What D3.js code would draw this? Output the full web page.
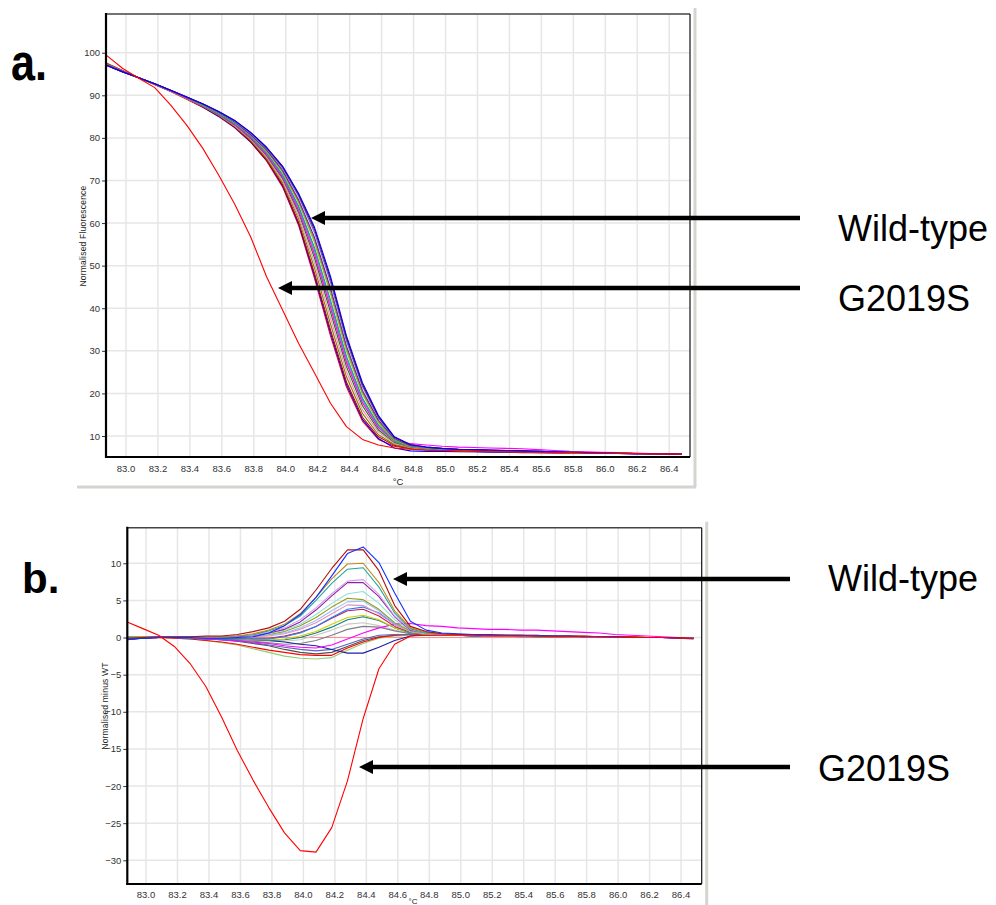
<!DOCTYPE html>
<html><head><meta charset="utf-8">
<script src="https://cdn.jsdelivr.net/npm/d3@7"></script>
<style>
body{margin:0;background:#fff}
svg{display:block}
text{font-family:"Liberation Sans",Arial,Helvetica,sans-serif}
</style>
</head><body>
<svg id="c" width="996" height="905"></svg>
<script>
// ---------- DATA ----------
const temps = [82.88,82.98,83.08,83.18,83.28,83.38,83.48,83.58,83.68,83.78,83.88,83.98,84.08,84.18,84.28,84.38,84.48,84.58,84.68,84.78,84.88,84.98,85.08,85.18,85.28,85.38,85.48,85.58,85.68,85.78,85.88,85.98,86.08,86.18,86.28,86.38,86.48];

const xTicks = [83.0,83.2,83.4,83.6,83.8,84.0,84.2,84.4,84.6,84.8,85.0,85.2,85.4,85.6,85.8,86.0,86.2,86.4];
const yTicksA = [10,20,30,40,50,60,70,80,90,100];
const yTicksB = [-30,-25,-20,-15,-10,-5,0,5,10];

// panel a: normalised fluorescence
const a_red     = [97.5,95.8,94.1,92.5,90.9,89.1,87.2,85.0,82.4,79.0,74.6,68.5,59.5,47.0,33.5,21.5,13.5,9.2,7.6,7.0,6.7,6.5,6.4,6.3,6.3,6.2,6.2,6.1,6.1,6.0,6.0,5.9,5.9,5.8,5.8,5.7,5.7];
const a_blueLow = [97.3,95.7,94.1,92.6,91.0,89.2,87.3,85.1,82.5,79.1,74.8,68.8,59.9,47.6,34.2,22.1,13.9,9.4,7.2,6.5,6.4,6.4,6.3,6.3,6.2,6.2,6.1,6.1,6.0,6.0,5.9,5.9,5.9,5.8,5.8,5.7,5.7];
const a_darkred = [97.4,95.7,94.1,92.6,91.0,89.2,87.4,85.3,82.6,79.2,74.9,69.0,60.2,48.2,34.9,22.7,14.4,9.8,7.8,7.1,6.8,6.6,6.5,6.4,6.4,6.3,6.3,6.2,6.2,6.1,6.1,6.0,6.0,5.9,5.9,5.8,5.7];
const a_olive   = [97.4,95.7,94.1,92.6,91.0,89.2,87.4,85.3,82.7,79.5,75.2,69.5,61.0,49.4,36.3,23.9,15.3,10.3,8.0,7.2,6.9,6.7,6.5,6.4,6.4,6.3,6.3,6.2,6.2,6.1,6.1,6.0,6.0,5.9,5.9,5.8,5.8];
const a_pink    = [97.3,95.7,94.1,92.6,91.0,89.2,87.5,85.4,82.9,79.7,75.6,70.0,61.7,50.6,37.7,25.1,16.2,10.9,8.3,7.3,6.9,6.7,6.6,6.5,6.4,6.4,6.3,6.3,6.2,6.1,6.1,6.0,6.0,5.9,5.9,5.8,5.7];
const a_green   = [97.3,95.6,94.1,92.6,91.0,89.3,87.5,85.5,83.1,79.9,75.9,70.5,62.5,51.8,39.1,26.3,17.1,11.4,8.5,7.4,7.0,6.8,6.6,6.5,6.5,6.4,6.3,6.3,6.2,6.1,6.0,6.0,5.9,5.9,5.8,5.8,5.7];
const a_orange  = [97.2,95.6,94.1,92.6,91.0,89.3,87.6,85.6,83.3,80.2,76.2,71.0,63.3,53.0,40.5,27.5,18.0,12.0,8.7,7.4,7.0,6.8,6.6,6.5,6.5,6.4,6.3,6.3,6.2,6.1,6.0,6.0,5.9,5.9,5.8,5.8,5.7];
const a_magenta = [97.2,95.6,94.1,92.6,91.0,89.3,87.6,85.6,83.2,80.1,76.1,70.8,63.0,52.6,40.1,27.2,17.8,11.9,8.9,8.2,7.9,7.6,7.4,7.3,7.2,7.1,7.0,6.8,6.6,6.4,6.3,6.2,6.1,6.0,5.9,5.8,5.8];
const a_violet  = [97.2,95.6,94.1,92.6,91.0,89.4,87.6,85.7,83.4,80.3,76.4,71.2,63.7,53.6,41.2,28.1,18.5,12.3,8.8,7.5,7.1,6.8,6.7,6.6,6.5,6.4,6.4,6.3,6.2,6.1,6.1,6.0,5.9,5.9,5.8,5.8,5.7];
const a_teal    = [97.2,95.6,94.1,92.6,91.1,89.4,87.7,85.7,83.4,80.4,76.5,71.4,64.0,54.2,41.9,28.7,18.9,12.6,8.9,7.5,7.1,6.8,6.7,6.6,6.5,6.4,6.4,6.3,6.2,6.2,6.1,6.0,6.0,5.9,5.8,5.8,5.7];
const a_gold    = [97.1,95.5,94.1,92.7,91.1,89.5,87.8,85.9,83.6,80.6,76.8,71.9,64.8,55.4,43.3,29.9,19.8,13.1,9.1,7.6,7.2,6.9,6.7,6.6,6.5,6.5,6.4,6.3,6.3,6.2,6.1,6.0,6.0,5.9,5.9,5.8,5.7];
const a_lime    = [97.1,95.5,94.1,92.7,91.1,89.5,87.8,85.9,83.7,80.7,77.0,72.1,65.1,56.0,44.0,30.5,20.2,13.4,9.2,7.7,7.2,6.9,6.8,6.7,6.6,6.5,6.4,6.3,6.3,6.2,6.1,6.0,6.0,5.9,5.9,5.8,5.7];
const a_purple  = [97.1,95.5,94.1,92.7,91.1,89.5,87.9,86.0,83.8,80.8,77.2,72.4,65.5,56.6,44.7,31.1,20.7,13.7,9.4,7.7,7.3,7.0,6.8,6.7,6.6,6.5,6.4,6.4,6.3,6.2,6.1,6.1,6.0,5.9,5.9,5.8,5.7];
const a_sky     = [97.0,95.5,94.1,92.7,91.2,89.6,87.9,86.1,83.9,81.1,77.5,72.9,66.3,57.8,46.1,32.3,21.6,14.2,9.6,7.8,7.3,7.0,6.9,6.7,6.6,6.6,6.5,6.4,6.3,6.2,6.1,6.1,6.0,5.9,5.9,5.8,5.7];
const a_maroon  = [97.0,95.5,94.1,92.7,91.2,89.6,88.0,86.2,84.1,81.3,77.7,73.2,66.7,58.5,46.9,33.0,22.1,14.5,9.7,7.9,7.4,7.1,6.9,6.8,6.7,6.6,6.5,6.4,6.3,6.2,6.1,6.0,6.0,5.9,5.9,5.8,5.7];
const a_blue    = [97.0,95.5,94.1,92.7,91.2,89.6,88.0,86.2,84.1,81.3,77.8,73.4,67.0,59.0,47.5,33.5,22.5,14.8,9.8,8.0,7.4,7.1,6.9,6.8,6.7,6.6,6.5,6.4,6.3,6.2,6.1,6.0,5.9,5.9,5.8,5.8,5.7];
const a_g2019s  = [99.3,96.3,94.0,91.8,87.7,83.0,77.6,71.3,64.5,56.8,47.4,39.6,31.8,24.8,17.7,12.2,9.2,7.9,7.2,6.9,6.7,6.6,6.5,6.4,6.3,6.3,6.2,6.2,6.1,6.1,6.0,6.0,5.9,5.9,5.8,5.8,5.7];

// panel b: normalised minus WT
const b_ref       = [0,0,0,0,0,0,0,0,0,0,0,0,0,0,0,0,0,0,0,0,0,0,0,0,0,0,0,0,0,0,0,0,0,0,0,0,0];
const b_darkred   = [-0.1,0.0,0.1,0.1,0.1,0.2,0.2,0.4,0.8,1.3,2.2,3.8,6.4,9.3,11.8,11.8,9.0,4.3,1.5,0.8,0.5,0.4,0.4,0.3,0.3,0.3,0.2,0.2,0.2,0.2,0.1,0.1,0.1,0.0,0.0,0.0,-0.1];
const b_blue      = [-0.3,-0.1,0.0,0.0,0.0,-0.1,-0.1,0.0,0.1,0.6,1.6,3.1,5.4,8.3,11.3,12.2,10.1,6.0,2.2,1.0,0.6,0.5,0.4,0.4,0.3,0.3,0.3,0.2,0.2,0.1,0.1,0.1,0.0,0.0,0.0,-0.1,-0.2];
const b_orange    = [0.0,0.0,0.1,0.1,0.1,0.1,0.1,0.2,0.5,1.0,1.8,3.2,5.4,7.9,9.9,10.0,7.4,3.6,1.3,0.7,0.5,0.4,0.4,0.3,0.3,0.3,0.3,0.2,0.2,0.2,0.1,0.1,0.1,0.0,0.0,0.0,-0.1];
const b_teal      = [0.1,0.0,0.1,0.1,0.1,0.1,0.1,0.2,0.4,0.9,1.6,2.9,5.0,7.3,9.2,9.4,6.8,3.3,1.2,0.6,0.5,0.4,0.3,0.3,0.3,0.3,0.2,0.2,0.2,0.1,0.1,0.1,0.1,0.0,0.0,0.0,-0.1];
const b_violet    = [0.0,0.0,0.1,0.1,0.1,0.1,0.1,0.2,0.3,0.7,1.3,2.4,4.0,5.9,7.6,7.8,5.8,2.9,1.1,0.6,0.4,0.4,0.3,0.3,0.3,0.2,0.2,0.2,0.2,0.1,0.1,0.1,0.0,0.0,0.0,0.0,-0.1];
const b_purple    = [0.0,0.0,0.1,0.1,0.1,0.1,0.1,0.1,0.3,0.6,1.1,2.1,3.7,5.6,7.4,7.4,5.5,2.8,1.0,0.6,0.4,0.4,0.3,0.3,0.3,0.2,0.2,0.2,0.2,0.1,0.1,0.1,0.1,0.0,0.0,0.0,-0.1];
const b_cyan      = [0.1,0.0,0.1,0.1,0.1,0.1,0.1,0.1,0.2,0.5,1.0,1.8,3.1,4.6,5.9,6.2,4.6,2.4,1.0,0.5,0.4,0.3,0.3,0.3,0.2,0.2,0.2,0.2,0.1,0.1,0.1,0.1,0.0,0.0,0.0,0.0,-0.1];
const b_olive     = [0.1,0.1,0.1,0.1,0.1,0.1,0.1,0.1,0.2,0.4,0.8,1.6,2.7,4.1,5.3,5.1,3.8,2.0,0.9,0.5,0.4,0.3,0.3,0.3,0.2,0.2,0.2,0.2,0.1,0.1,0.1,0.1,0.0,0.0,0.0,0.0,-0.1];
const b_lightblue = [0.0,0.0,0.1,0.1,0.0,0.0,0.0,0.0,0.1,0.3,0.6,1.3,2.3,3.6,4.8,4.9,3.6,1.9,0.8,0.5,0.4,0.3,0.3,0.2,0.2,0.2,0.2,0.1,0.1,0.1,0.1,0.0,0.0,0.0,0.0,0.0,-0.1];
const b_pink      = [0.0,0.0,0.1,0.1,0.0,0.0,0.0,0.0,0.1,0.2,0.5,1.1,2.0,3.2,4.4,4.3,3.2,1.7,0.8,0.5,0.4,0.3,0.3,0.2,0.2,0.2,0.2,0.1,0.1,0.1,0.1,0.0,0.0,0.0,0.0,0.0,-0.1];
const b_midblue   = [-0.1,0.0,0.0,0.0,-0.1,-0.1,-0.2,-0.2,-0.2,-0.2,0.1,0.6,1.5,2.7,3.8,4.1,3.3,1.8,0.8,0.5,0.4,0.3,0.3,0.2,0.2,0.2,0.1,0.1,0.1,0.1,0.0,0.0,0.0,0.0,0.0,-0.1,-0.1];
const b_crimson   = [0.0,0.0,0.0,0.0,0.0,-0.1,-0.1,-0.1,-0.1,-0.1,0.2,0.7,1.5,2.6,3.6,3.8,2.9,1.5,0.7,0.5,0.4,0.3,0.3,0.2,0.2,0.2,0.2,0.1,0.1,0.1,0.1,0.0,0.0,0.0,0.0,0.0,-0.1];
const b_yellow    = [0.1,0.1,0.1,0.1,0.0,-0.1,-0.1,-0.2,-0.3,-0.3,-0.2,0.2,0.8,1.8,2.7,3.0,2.4,1.3,0.7,0.4,0.3,0.3,0.3,0.2,0.2,0.2,0.1,0.1,0.1,0.1,0.0,0.0,0.0,0.0,0.0,0.0,-0.1];
const b_darkteal  = [0.0,0.0,0.0,0.0,-0.1,-0.1,-0.2,-0.3,-0.3,-0.4,-0.3,0.0,0.6,1.4,2.4,2.8,2.3,1.3,0.6,0.4,0.3,0.3,0.2,0.2,0.2,0.2,0.1,0.1,0.1,0.1,0.0,0.0,0.0,0.0,0.0,0.0,-0.1];
const b_lightgray = [0.0,0.0,0.0,0.0,-0.1,-0.2,-0.2,-0.3,-0.4,-0.5,-0.5,-0.3,0.3,1.0,1.8,2.0,1.6,1.0,0.5,0.4,0.3,0.3,0.2,0.2,0.2,0.1,0.1,0.1,0.1,0.0,0.0,0.0,0.0,0.0,0.0,0.0,-0.1];
const b_gray      = [-0.2,-0.1,0.0,0.0,-0.1,-0.2,-0.3,-0.4,-0.5,-0.7,-0.9,-0.8,-0.4,0.3,1.1,1.5,1.4,0.9,0.5,0.4,0.3,0.3,0.2,0.2,0.2,0.1,0.1,0.1,0.1,0.0,0.0,0.0,0.0,0.0,0.0,0.0,-0.1];
const b_magenta   = [0.0,0.0,0.0,0.0,-0.1,-0.2,-0.3,-0.5,-0.6,-0.8,-1.1,-1.3,-1.4,-1.0,-0.2,0.6,1.3,1.8,1.9,1.6,1.5,1.3,1.2,1.1,1.1,1.0,1.0,0.9,0.8,0.7,0.6,0.4,0.3,0.2,0.1,0.0,-0.1];
const b_red       = [-0.2,-0.1,0.0,-0.1,-0.2,-0.4,-0.6,-0.9,-1.3,-1.7,-2.0,-2.3,-2.4,-2.4,-1.4,-0.6,0.0,0.3,0.4,0.4,0.3,0.3,0.3,0.2,0.2,0.2,0.2,0.1,0.1,0.1,0.1,0.0,0.0,0.0,0.0,0.0,-0.1];
const b_green     = [-0.1,0.0,0.0,-0.1,-0.2,-0.4,-0.7,-1.0,-1.5,-2.0,-2.5,-2.8,-2.9,-2.7,-1.7,-0.8,-0.1,0.2,0.3,0.3,0.3,0.3,0.2,0.2,0.2,0.2,0.1,0.1,0.1,0.1,0.0,0.0,0.0,0.0,0.0,0.0,-0.1];
const b_navy      = [-0.2,-0.1,0.0,0.0,-0.1,-0.1,-0.1,-0.2,-0.3,-0.4,-0.6,-0.9,-1.1,-1.6,-2.1,-2.1,-1.3,-0.4,0.2,0.4,0.4,0.3,0.3,0.3,0.2,0.2,0.2,0.2,0.1,0.1,0.1,0.1,0.0,0.0,0.0,-0.1,-0.1];
const b_darkgray  = [-0.3,-0.1,0.0,0.0,-0.1,-0.2,-0.3,-0.5,-0.8,-1.1,-1.6,-2.0,-2.2,-2.0,-1.2,-0.4,0.1,0.3,0.4,0.3,0.3,0.3,0.2,0.2,0.2,0.2,0.1,0.1,0.1,0.1,0.0,0.0,0.0,0.0,0.0,0.0,-0.1];
const b_slate     = [-0.2,-0.1,0.0,0.0,-0.1,-0.2,-0.3,-0.4,-0.7,-1.0,-1.3,-1.6,-1.8,-1.6,-0.9,-0.2,0.3,0.4,0.4,0.3,0.3,0.3,0.2,0.2,0.2,0.1,0.1,0.1,0.1,0.1,0.0,0.0,0.0,0.0,0.0,0.0,-0.1];
const b_g2019s    = [2.1,1.2,0.3,-1.2,-3.5,-6.6,-10.7,-15.2,-19.2,-22.9,-26.3,-28.7,-28.9,-25.6,-19.3,-10.9,-4.2,-0.9,0.2,0.3,0.3,0.3,0.3,0.2,0.2,0.2,0.2,0.1,0.1,0.1,0.1,0.0,0.0,0.0,0.0,-0.1,-0.1];

const seriesA = [
  {v:a_red,c:"#ff0000"},{v:a_blueLow,c:"#0000ff"},{v:a_darkred,c:"#c00000"},{v:a_olive,c:"#808000"},
  {v:a_pink,c:"#ff80c0"},{v:a_green,c:"#008000"},{v:a_orange,c:"#ff8000"},{v:a_magenta,c:"#ff00ff"},
  {v:a_violet,c:"#9060ff"},{v:a_teal,c:"#00a0a0"},{v:a_gold,c:"#d0b000"},{v:a_lime,c:"#40c040"},
  {v:a_purple,c:"#a000a0"},{v:a_sky,c:"#3080ff"},{v:a_maroon,c:"#900000"},{v:a_blue,c:"#0000ff"},
  {v:a_g2019s,c:"#ff0000"}
];
const seriesB = [
  {v:b_ref,c:"#ff9090"},{v:b_lightgray,c:"#c8c8c8"},{v:b_gray,c:"#808080"},{v:b_darkgray,c:"#505050"},
  {v:b_green,c:"#90d070"},{v:b_red,c:"#ff0000"},{v:b_slate,c:"#6060c0"},{v:b_navy,c:"#2020a0"},
  {v:b_magenta,c:"#ff00ff"},{v:b_darkteal,c:"#108080"},{v:b_yellow,c:"#d0d000"},{v:b_crimson,c:"#c02050"},
  {v:b_midblue,c:"#2080ff"},{v:b_pink,c:"#e090c8"},{v:b_lightblue,c:"#a0c0f0"},{v:b_olive,c:"#90a020"},
  {v:b_cyan,c:"#90e0d8"},{v:b_purple,c:"#9020a0"},{v:b_violet,c:"#d0a0f0"},{v:b_teal,c:"#20a8a0"},
  {v:b_orange,c:"#c08a20"},{v:b_darkred,c:"#b01010"},{v:b_blue,c:"#1030ff"},{v:b_g2019s,c:"#ff0000"}
];

// ---------- DRAW ----------
const svg = d3.select("#c");
const FONT = '"Liberation Sans",Arial,sans-serif';

function panel(cfg){
  const {left,right,top,bottom,xDom,yDom,yTicks,series,yTitle,yTitleX,xTitleX,xTitleY,xLabY,clipId} = cfg;
  const x = d3.scaleLinear().domain(xDom).range([left,right]);
  const y = d3.scaleLinear().domain(yDom).range([bottom,top]);
  const g = svg.append("g");
  // shadow frame
  g.append("line").attr("x1",right+5).attr("x2",right+5).attr("y1",top-6).attr("y2",cfg.frameBottom)
    .attr("stroke","#d4d4d0").attr("stroke-width",3);
  if(cfg.frameBottom < 905){
    g.append("line").attr("x1",left-29).attr("x2",right+6).attr("y1",cfg.frameBottom).attr("y2",cfg.frameBottom)
      .attr("stroke","#d4d4d0").attr("stroke-width",3);
  }
  // grid
  g.append("g").selectAll("line").data(xTicks).join("line")
    .attr("x1",d=>x(d)).attr("x2",d=>x(d)).attr("y1",top).attr("y2",bottom)
    .attr("stroke","#e6e6e6").attr("stroke-width",1.5);
  g.append("g").selectAll("line").data(yTicks).join("line")
    .attr("x1",left).attr("x2",right).attr("y1",d=>y(d)).attr("y2",d=>y(d))
    .attr("stroke","#e6e6e6").attr("stroke-width",1.5);
  // clip
  svg.append("clipPath").attr("id",clipId).append("rect")
    .attr("x",left).attr("y",top).attr("width",right-left).attr("height",bottom-top);
  const line = d3.line().x((d,i)=>x(temps[i])).y(d=>y(d));
  g.append("g").attr("clip-path",`url(#${clipId})`).selectAll("path").data(series).join("path")
    .attr("d",d=>line(d.v)).attr("fill","none").attr("stroke",d=>d.c).attr("stroke-width",1.1)
    .attr("stroke-linejoin","round");
  // borders
  g.append("line").attr("x1",left).attr("x2",right).attr("y1",top).attr("y2",top).attr("stroke","#444").attr("stroke-width",1.6);
  g.append("line").attr("x1",right).attr("x2",right).attr("y1",top).attr("y2",bottom).attr("stroke","#111").attr("stroke-width",1.2);
  // axes
  const ya = d3.axisLeft(y).tickValues(yTicks).tickSize(4).tickPadding(2).tickFormat(d3.format("d"));
  const yg = g.append("g").attr("transform",`translate(${left},0)`).call(ya);
  yg.select(".domain").remove();
  yg.selectAll("line").attr("stroke","#333");
  yg.selectAll("text").attr("font-family",FONT).attr("font-size",9.5).attr("fill","#333");
  const xg = g.append("g");
  xg.selectAll("text").data(xTicks).join("text")
    .attr("x",d=>x(d)).attr("y",xLabY).attr("text-anchor","middle")
    .attr("font-family",FONT).attr("font-size",9.5).attr("fill","#333").text(d3.format(".1f"));
  g.append("line").attr("x1",left).attr("x2",left).attr("y1",top-1).attr("y2",bottom+1).attr("stroke","#000").attr("stroke-width",2.2);
  g.append("line").attr("x1",left-1).attr("x2",right).attr("y1",bottom).attr("y2",bottom).attr("stroke","#000").attr("stroke-width",2.2);
  // titles
  g.append("text").attr("transform",`translate(${yTitleX},${cfg.yTitleY}) rotate(-90)`).attr("text-anchor","middle")
    .attr("font-family",FONT).attr("font-size",8.5).attr("fill","#222").attr("letter-spacing",0.2).text(yTitle);
  g.append("text").attr("x",xTitleX).attr("y",xTitleY).attr("text-anchor","middle")
    .attr("font-family",FONT).attr("font-size",cfg.xTitleSize).attr("fill","#222").text("°C");
  return {x,y};
}

panel({left:106,right:690,top:14,bottom:457,xDom:[82.875,86.53],yDom:[5.07,109.09],yTicks:yTicksA,
  series:seriesA,yTitle:"Normalised Fluorescence",yTitleX:86,yTitleY:236,xTitleX:398,xTitleY:485,xLabY:472,
  xTitleSize:9.5,frameBottom:487,clipId:"clipA"});
panel({left:127.3,right:701.7,top:527.7,bottom:884,xDom:[82.881,86.531],yDom:[-33.19,14.79],yTicks:yTicksB,
  series:seriesB,yTitle:"Normalised minus WT",yTitleX:108,yTitleY:706,xTitleX:413,xTitleY:904,xLabY:898,
  xTitleSize:8,frameBottom:906,clipId:"clipB"});

// panel letters
svg.append("text").attr("x",11).attr("y",80).attr("font-family",FONT).attr("font-weight","bold")
  .attr("font-size",52).attr("textLength",36).attr("lengthAdjust","spacingAndGlyphs").attr("fill","#000").text("a.");
svg.append("text").attr("x",22).attr("y",593).attr("font-family",FONT).attr("font-weight","bold")
  .attr("font-size",42).attr("fill","#000").text("b.");

// annotation arrows + labels
const arrows = [
  {x1:800,x2:311,y:218,label:"Wild-type",lx:838,ly:241},
  {x1:800,x2:278,y:288,label:"G2019S",lx:838,ly:311},
  {x1:790,x2:393,y:579,label:"Wild-type",lx:828,ly:591},
  {x1:790,x2:359,y:767,label:"G2019S",lx:818,ly:781}
];
arrows.forEach(a=>{
  svg.append("line").attr("x1",a.x1).attr("x2",a.x2+12).attr("y1",a.y).attr("y2",a.y)
    .attr("stroke","#000").attr("stroke-width",4.5);
  svg.append("path").attr("d",`M${a.x2},${a.y} L${a.x2+14},${a.y-7} L${a.x2+14},${a.y+7} Z`).attr("fill","#000");
  svg.append("text").attr("x",a.lx).attr("y",a.ly).attr("font-family",FONT).attr("font-size",36)
    .attr("fill","#000").text(a.label);
});
</script>
</body></html>
